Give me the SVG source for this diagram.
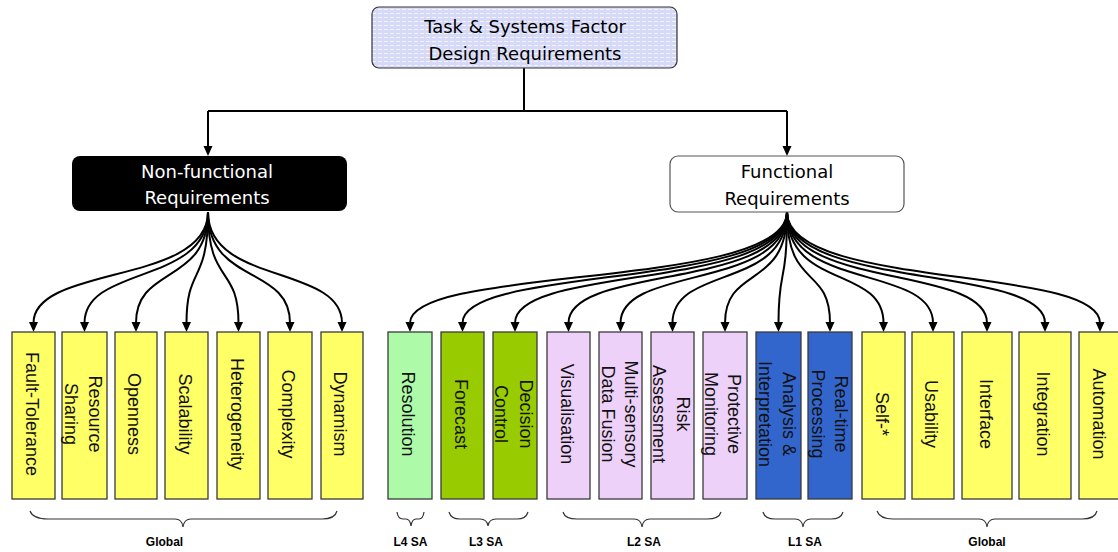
<svg xmlns="http://www.w3.org/2000/svg" width="1118" height="552" viewBox="0 0 1118 552">
<defs>
<pattern id="hatch" width="6" height="4" patternUnits="userSpaceOnUse">
<rect width="6" height="4" fill="#D6D9F7"/>
<line x1="0" y1="1.5" x2="4" y2="1.5" stroke="#F4F4FE" stroke-width="1"/>
</pattern>
<marker id="arr" markerUnits="userSpaceOnUse" markerWidth="11" markerHeight="10" refX="1" refY="4.5" orient="auto">
<path d="M0,0 L10,4.5 L0,9 z" fill="#000"/>
</marker>
</defs>
<style>
.hdr{font-family:"DejaVu Sans","Noto Sans",sans-serif;font-size:18px;text-anchor:middle}
.box{stroke:#3a3a3a;stroke-width:1.3}
.y{fill:#FFFF66}.g{fill:#ADFBA8}.o{fill:#99CC00}.l{fill:#EDD1F8}.b{fill:#3366CC}
.bt{font-family:"Liberation Sans",Arial,sans-serif;font-size:18px;text-anchor:middle;fill:#111}
.con{fill:none;stroke:#000;stroke-width:2}
.br{fill:none;stroke:#333;stroke-width:1.2}
.lab{font-family:"Liberation Sans",Arial,sans-serif;font-size:12px;font-weight:bold;text-anchor:middle;fill:#000}
</style>
<rect width="1118" height="552" fill="#fff"/>

<g id="connectors">
<path class="con" d="M524,68 L524,111 M208,111 L787,111"/>
<path class="con" d="M208,111 L208,147" marker-end="url(#arr)"/>
<path class="con" d="M787,111 L787,147" marker-end="url(#arr)"/>
<g marker-end="url(#arr)">
<path class="con" d="M208,212 C208,285 33.5,265 33.5,323"/>
<path class="con" d="M208,212 C208,285 84.5,265 84.5,323"/>
<path class="con" d="M208,212 C208,285 136,265 136,323"/>
<path class="con" d="M208,212 C208,285 186.5,265 186.5,323"/>
<path class="con" d="M208,212 C208,285 238.5,265 238.5,323"/>
<path class="con" d="M208,212 C208,285 290,265 290,323"/>
<path class="con" d="M208,212 C208,285 342,265 342,323"/>
<path class="con" d="M787,212 C787,290 410,265 410,323"/>
<path class="con" d="M787,212 C787,290 462.5,265 462.5,323"/>
<path class="con" d="M787,212 C787,290 515,265 515,323"/>
<path class="con" d="M787,212 C787,290 568.5,265 568.5,323"/>
<path class="con" d="M787,212 C787,290 620.5,265 620.5,323"/>
<path class="con" d="M787,212 C787,290 672.5,265 672.5,323"/>
<path class="con" d="M787,212 C787,290 725,265 725,323"/>
<path class="con" d="M787,212 C787,290 778.5,265 778.5,323"/>
<path class="con" d="M787,212 C787,290 830,265 830,323"/>
<path class="con" d="M787,212 C787,290 883.5,265 883.5,323"/>
<path class="con" d="M787,212 C787,290 933,265 933,323"/>
<path class="con" d="M787,212 C787,290 987,265 987,323"/>
<path class="con" d="M787,212 C787,290 1045,265 1045,323"/>
<path class="con" d="M787,212 C787,290 1100,265 1100,323"/>
</g>
</g>

<g id="top">
<rect x="372" y="7" width="305" height="61" rx="7" fill="url(#hatch)" stroke="#333" stroke-width="1.2"/>
<text class="hdr" x="525" y="33">Task &amp; Systems Factor</text>
<text class="hdr" x="525" y="60">Design Requirements</text>
</g>
<g id="nonfunctional">
<rect x="72" y="156" width="275" height="55" rx="8" fill="#000"/>
<text class="hdr" x="207" y="178" fill="#fff">Non-functional</text>
<text class="hdr" x="207" y="204" fill="#fff">Requirements</text>
</g>
<g id="functional">
<rect x="670" y="156" width="234" height="56" rx="8" fill="#fff" stroke="#555" stroke-width="1.2"/>
<text class="hdr" x="787" y="178">Functional</text>
<text class="hdr" x="787" y="205">Requirements</text>
</g>

<g id="fault-tolerance"><rect class="box y" x="12" y="332" width="43" height="167"/><text class="bt" transform="translate(33.5,414) rotate(90)"><tspan x="0" y="8">Fault-Tolerance</tspan></text></g>
<g id="resource-sharing"><rect class="box y" x="62" y="332" width="45" height="167"/><text class="bt" transform="translate(84.5,414) rotate(90)"><tspan x="0" y="-4">Resource</tspan><tspan x="0" y="20">Sharing</tspan></text></g>
<g id="openness"><rect class="box y" x="115" y="332" width="42" height="167"/><text class="bt" transform="translate(136,414) rotate(90)"><tspan x="0" y="8">Openness</tspan></text></g>
<g id="scalability"><rect class="box y" x="165" y="332" width="43" height="167"/><text class="bt" transform="translate(186.5,414) rotate(90)"><tspan x="0" y="8">Scalability</tspan></text></g>
<g id="heterogeneity"><rect class="box y" x="217" y="332" width="43" height="167"/><text class="bt" transform="translate(238.5,414) rotate(90)"><tspan x="0" y="8">Heterogeneity</tspan></text></g>
<g id="complexity"><rect class="box y" x="268" y="332" width="44" height="167"/><text class="bt" transform="translate(290,414) rotate(90)"><tspan x="0" y="8">Complexity</tspan></text></g>
<g id="dynamism"><rect class="box y" x="321" y="332" width="42" height="167"/><text class="bt" transform="translate(342,414) rotate(90)"><tspan x="0" y="8">Dynamism</tspan></text></g>

<g id="resolution"><rect class="box g" x="388" y="332" width="44" height="167"/><text class="bt" transform="translate(410,414) rotate(90)"><tspan x="0" y="8">Resolution</tspan></text></g>
<g id="forecast"><rect class="box o" x="441" y="332" width="43" height="167"/><text class="bt" transform="translate(462.5,414) rotate(90)"><tspan x="0" y="8">Forecast</tspan></text></g>
<g id="decision-control"><rect class="box o" x="493" y="332" width="44" height="167"/><text class="bt" transform="translate(515,414) rotate(90)"><tspan x="0" y="-5">Decision</tspan><tspan x="0" y="20">Control</tspan></text></g>
<g id="visualisation"><rect class="box l" x="547" y="332" width="43" height="167"/><text class="bt" transform="translate(568.5,414) rotate(90)"><tspan x="0" y="8">Visualisation</tspan></text></g>
<g id="data-fusion"><rect class="box l" x="599" y="332" width="43" height="167"/><text class="bt" transform="translate(620.5,414) rotate(90)"><tspan x="0" y="-4">Multi-sensory</tspan><tspan x="0" y="19">Data Fusion</tspan></text></g>
<g id="risk-assessment"><rect class="box l" x="651" y="332" width="43" height="167"/><text class="bt" transform="translate(672.5,414) rotate(90)"><tspan x="0" y="-4">Risk</tspan><tspan x="0" y="20">Assessment</tspan></text></g>
<g id="protective-monitoring"><rect class="box l" x="703" y="332" width="44" height="167"/><text class="bt" transform="translate(725,414) rotate(90)"><tspan x="0" y="-3">Protective</tspan><tspan x="0" y="20">Monitoring</tspan></text></g>
<g id="analysis"><rect class="box b" x="756" y="332" width="45" height="167"/><text class="bt" transform="translate(778.5,414) rotate(90)"><tspan x="0" y="-4">Analysis &amp;</tspan><tspan x="0" y="20">Interpretation</tspan></text></g>
<g id="real-time"><rect class="box b" x="808" y="332" width="44" height="167"/><text class="bt" transform="translate(830,414) rotate(90)"><tspan x="0" y="-5">Real-time</tspan><tspan x="0" y="18">Processing</tspan></text></g>
<g id="self"><rect class="box y" x="862" y="332" width="43" height="167"/><text class="bt" transform="translate(883.5,414) rotate(90)"><tspan x="0" y="8">Self-*</tspan></text></g>
<g id="usability"><rect class="box y" x="912" y="332" width="42" height="167"/><text class="bt" transform="translate(933,414) rotate(90)"><tspan x="0" y="8">Usability</tspan></text></g>
<g id="interface"><rect class="box y" x="962" y="332" width="50" height="167"/><text class="bt" transform="translate(987,414) rotate(90)"><tspan x="0" y="7">Interface</tspan></text></g>
<g id="integration"><rect class="box y" x="1019" y="332" width="52" height="167"/><text class="bt" transform="translate(1045,414) rotate(90)"><tspan x="0" y="8">Integration</tspan></text></g>
<g id="automation"><rect class="box y" x="1079" y="332" width="44" height="167"/><text class="bt" transform="translate(1101,414) rotate(90)"><tspan x="0" y="8">Automation</tspan></text></g>

<g id="braces">
<path class="br" d="M30,511 Q33,519 48,519 L175,519 Q182,519 183,527 Q184,519 191,519 L322,519 Q335,519 337,511"/>
<path class="br" d="M397,512 Q398,519 403,519 L406,519 Q410,519 411,526 Q412,519 416,519 L419,519 Q423,519 424,512"/>
<path class="br" d="M449,512 Q451,519 460,519 L480,519 Q487,519 488,526 Q489,519 496,519 L517,519 Q526,519 528,512"/>
<path class="br" d="M563,512 Q565,519 577,519 L634,519 Q641,519 642,527 Q643,519 650,519 L707,519 Q719,519 721,512"/>
<path class="br" d="M763,512 Q765,519 775,519 L795,519 Q802,519 803,527 Q804,519 811,519 L831,519 Q841,519 843,512"/>
<path class="br" d="M877,511 Q880,519 893,519 L979,519 Q986,519 987,527 Q988,519 995,519 L1082,519 Q1095,519 1097,511"/>
</g>
<g id="labels">
<text class="lab" x="164.5" y="546">Global</text>
<text class="lab" x="410.5" y="546">L4 SA</text>
<text class="lab" x="486" y="546">L3 SA</text>
<text class="lab" x="644" y="546">L2 SA</text>
<text class="lab" x="805" y="546">L1 SA</text>
<text class="lab" x="987" y="546">Global</text>
</g>
</svg>
